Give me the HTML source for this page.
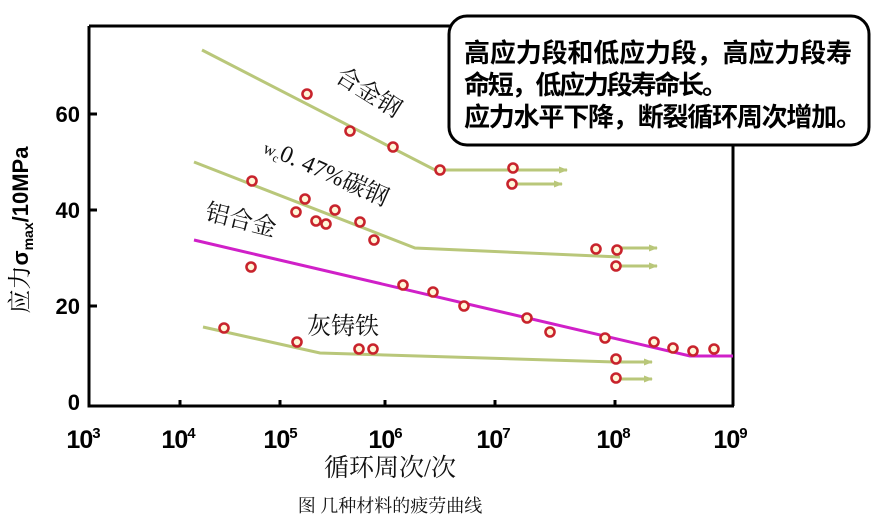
<!DOCTYPE html>
<html><head><meta charset="utf-8"><style>
body{margin:0;background:#fff;width:871px;height:522px;overflow:hidden}
.b{font-family:"Liberation Sans","Noto Sans CJK SC",sans-serif;font-weight:bold}
.s{font-family:"Liberation Serif","Noto Serif CJK SC",serif}
</style></head><body>
<svg width="871" height="522" viewBox="0 0 871 522" xmlns="http://www.w3.org/2000/svg">
<defs><marker id="ar" markerUnits="userSpaceOnUse" markerWidth="10" markerHeight="10" refX="8" refY="4" orient="auto"><path d="M0,0.5 L9,4 L0,7.5z" fill="#b9c77a"/></marker></defs>
<g fill="none" stroke="#000" stroke-width="3">
<path d="M89,26 L450,26 M89,26 L89,406 L734,406 M733,140 L733,406"/>
<path d="M89,114 h8 M89,210 h8 M89,306 h8 M180,406 v-6 M280,406 v-6 M385,406 v-6 M495,406 v-6 M615,406 v-6"/>
</g>
<g fill="none" stroke="#b9c77a" stroke-width="3">
<path d="M202,50 L435,170 L520,170"/>
<path d="M440,170 L567,170" marker-end="url(#ar)"/>
<path d="M512,184 L562,184" marker-end="url(#ar)"/>
<path d="M194,162 L415,248 L620,257"/>
<path d="M620,248 L657,248" marker-end="url(#ar)"/>
<path d="M616,266 L657,266" marker-end="url(#ar)"/>
<path d="M203,327 L320,353 L615,362"/>
<path d="M615,362 L652,362" marker-end="url(#ar)"/>
<path d="M616,379 L652,379" marker-end="url(#ar)"/>
</g>
<path d="M194,240 L690,356 L733,356" fill="none" stroke="#d020c8" stroke-width="3"/>
<g fill="#fff6d8" stroke="#c8232c" stroke-width="2.6">
<circle cx="307" cy="94" r="4.5"/><circle cx="350" cy="131" r="4.5"/><circle cx="393" cy="147" r="4.5"/><circle cx="440" cy="170" r="4.5"/><circle cx="513" cy="168" r="4.5"/><circle cx="512" cy="184" r="4.5"/>
<circle cx="252" cy="181" r="4.5"/><circle cx="296" cy="212" r="4.5"/><circle cx="305" cy="199" r="4.5"/><circle cx="316" cy="221" r="4.5"/><circle cx="326" cy="224" r="4.5"/><circle cx="335" cy="210" r="4.5"/><circle cx="360" cy="222" r="4.5"/><circle cx="374" cy="240" r="4.5"/><circle cx="596" cy="249" r="4.5"/><circle cx="617" cy="250" r="4.5"/><circle cx="616" cy="266" r="4.5"/>
<circle cx="251" cy="267" r="4.5"/><circle cx="403" cy="285" r="4.5"/><circle cx="433" cy="292" r="4.5"/><circle cx="464" cy="306" r="4.5"/><circle cx="527" cy="318" r="4.5"/><circle cx="550" cy="332" r="4.5"/><circle cx="605" cy="338" r="4.5"/><circle cx="654" cy="342" r="4.5"/><circle cx="673" cy="348" r="4.5"/><circle cx="693" cy="351" r="4.5"/><circle cx="714" cy="349" r="4.5"/>
<circle cx="224" cy="328" r="4.5"/><circle cx="297" cy="342" r="4.5"/><circle cx="359" cy="349" r="4.5"/><circle cx="373" cy="349" r="4.5"/><circle cx="616" cy="359" r="4.5"/><circle cx="616" cy="378" r="4.5"/>
</g>
<g class="s" font-size="24" fill="#111">
<text transform="translate(334,80) rotate(32)">合金钢</text>
<text transform="translate(262,152) rotate(24)"><tspan font-size="17">w</tspan><tspan font-size="12" dy="4">c</tspan><tspan dy="-4">0. 47%碳钢</tspan></text>
<text transform="translate(204,219) rotate(14)">铝合金</text>
<text x="307" y="334">灰铸铁</text>
</g>
<g class="b" font-size="22" fill="#000" text-anchor="end">
<text x="80" y="122">60</text><text x="80" y="218">40</text><text x="80" y="314">20</text><text x="80" y="410">0</text>
</g>
<g class="b" font-size="25" fill="#000" text-anchor="middle" letter-spacing="-1">
<text x="83" y="448">10<tspan font-size="15" dy="-10">3</tspan></text>
<text x="178" y="448">10<tspan font-size="15" dy="-10">4</tspan></text>
<text x="280" y="448">10<tspan font-size="15" dy="-10">5</tspan></text>
<text x="385" y="448">10<tspan font-size="15" dy="-10">6</tspan></text>
<text x="493" y="448">10<tspan font-size="15" dy="-10">7</tspan></text>
<text x="613" y="448">10<tspan font-size="15" dy="-10">8</tspan></text>
<text x="730" y="448">10<tspan font-size="15" dy="-10">9</tspan></text>
</g>
<text transform="translate(28,230) rotate(-90)" text-anchor="middle" fill="#000"><tspan class="s" font-size="24">应力</tspan><tspan class="b" font-size="22">σ</tspan><tspan class="b" font-size="14" dy="5">max</tspan><tspan class="b" font-size="22" dy="-5">/10MPa</tspan></text>
<text class="s" x="390" y="476" font-size="25" text-anchor="middle" fill="#111">循环周次/次</text>
<text class="s" x="390" y="512" font-size="18" text-anchor="middle" fill="#111">图  几种材料的疲劳曲线</text>
<rect x="449" y="16" width="420" height="129" rx="18" fill="#fff" stroke="#000" stroke-width="3"/>
<g class="b" font-size="26" fill="#000">
<text x="464" y="62" textLength="388">高应力段和低应力段，高应力段寿</text>
<text x="464" y="94" textLength="264">命短，低应力段寿命长。</text>
<text x="464" y="126" textLength="398">应力水平下降，断裂循环周次增加。</text>
</g>
</svg>
</body></html>
